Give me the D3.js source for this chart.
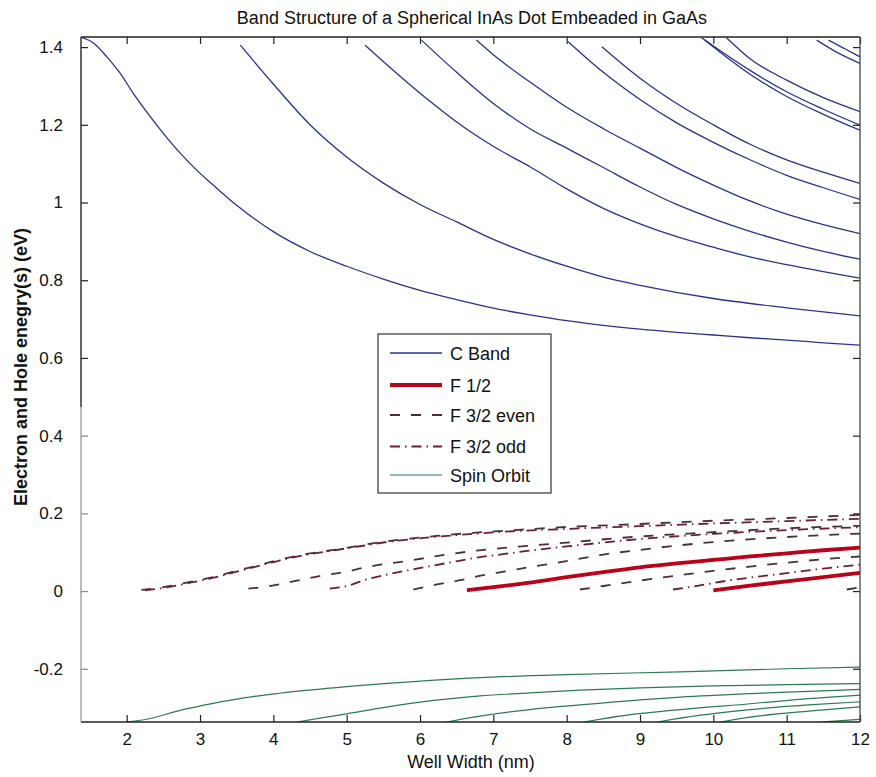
<!DOCTYPE html>
<html>
<head>
<meta charset="utf-8">
<script src="https://cdn.jsdelivr.net/npm/d3@7"></script>
<style>
  html, body { margin: 0; padding: 0; background: #fff; }
  svg text { font-family: "Liberation Sans", Arial, Helvetica, sans-serif; fill: #111; }
</style>
</head>
<body>
<svg id="chart" width="876" height="777"></svg>
<script>
// ---------------- DATA ----------------
const chartTitle = "Band Structure of a Spherical InAs Dot Embeaded in GaAs";
const xLabel = "Well Width (nm)";
const yLabel = "Electron and Hole enegry(s) (eV)";
const xTicks = [2, 3, 4, 5, 6, 7, 8, 9, 10, 11, 12];
const yTicks = [-0.2, 0, 0.2, 0.4, 0.6, 0.8, 1, 1.2, 1.4];
const yTickLabels = ["-0.2", "0", "0.2", "0.4", "0.6", "0.8", "1", "1.2", "1.4"];
const xDomain = [1.377, 12];
const yDomain = [-0.337, 1.426];

// Conduction band levels [well width nm, energy eV]
const cBand = [
  [[1.37,1.426],[1.55,1.41],[1.73,1.375],[1.91,1.333],[2.09,1.281],[2.27,1.234],[2.5,1.178],[2.73,1.127],[2.95,1.084],[3.18,1.045],[3.5,0.993],[4,0.925],[4.5,0.874],[5,0.836],[5.5,0.803],[6,0.774],[6.5,0.75],[7,0.728],[7.5,0.711],[8,0.696],[8.5,0.684],[9,0.674],[9.5,0.666],[10,0.659],[10.5,0.652],[11,0.646],[11.5,0.639],[12,0.633]],
  [[3.55,1.405],[4,1.305],[4.5,1.2],[5,1.117],[5.5,1.05],[6,0.995],[6.5,0.95],[7,0.905],[7.5,0.868],[8,0.836],[8.5,0.808],[9,0.787],[10,0.753],[11,0.729],[12,0.708]],
  [[5.25,1.405],[5.68,1.333],[6.14,1.26],[6.59,1.195],[7.05,1.139],[7.5,1.092],[8,1.035],[8.5,0.985],[9,0.945],[9.5,0.912],[10,0.885],[10.5,0.86],[11,0.84],[11.5,0.822],[12,0.805]],
  [[6.02,1.418],[6.5,1.335],[7,1.255],[7.5,1.19],[8,1.14],[8.5,1.09],[9,1.04],[9.5,0.995],[10,0.958],[10.5,0.926],[11,0.898],[11.5,0.874],[12,0.854]],
  [[6.77,1.418],[7,1.38],[7.5,1.31],[8,1.245],[8.5,1.19],[9,1.14],[9.5,1.09],[10,1.045],[10.5,1.004],[11,0.97],[11.5,0.943],[12,0.92]],
  [[8.02,1.414],[8.5,1.335],[9,1.265],[9.5,1.205],[10,1.155],[10.5,1.11],[11,1.07],[11.5,1.038],[12,1.008]],
  [[8.48,1.401],[9,1.32],[9.5,1.255],[10,1.2],[10.5,1.15],[11,1.11],[11.5,1.078],[12,1.049]],
  [[9.84,1.424],[10.5,1.34],[11,1.285],[11.5,1.24],[12,1.199]],
  [[9.88,1.418],[10.5,1.33],[11,1.273],[11.5,1.227],[12,1.186]],
  [[10.18,1.424],[10.5,1.37],[11,1.315],[11.5,1.27],[12,1.234]],
  [[11.41,1.418],[11.7,1.385],[12,1.358]],
  [[11.57,1.418],[11.8,1.395],[12,1.375]]
];

// F 1/2 hole levels (thick red)
const f12 = [
  [[6.64,0.002],[7,0.01],[7.5,0.022],[8,0.036],[8.5,0.049],[9,0.061],[9.5,0.071],[10,0.08],[10.5,0.089],[11,0.097],[11.5,0.105],[12,0.112]],
  [[10.0,0.002],[10.5,0.014],[11,0.025],[11.5,0.036],[12,0.047]]
];

// F 3/2 even hole levels (dashed)
const f32even = [
  [[2.2,0.003],[2.5,0.01],[2.8,0.021],[3.2,0.037],[3.5,0.052],[3.75,0.064],[4.07,0.08],[4.5,0.097],[4.9,0.108],[5.2,0.118],[5.5,0.127],[5.91,0.136],[6.23,0.142],[6.73,0.15],[7.14,0.155],[8,0.165],[8.68,0.17],[9.5,0.177],[10,0.181],[11,0.188],[11.5,0.192],[12,0.196]],
  [[3.66,0.006],[4.02,0.015],[4.3,0.026],[4.61,0.038],[5,0.05],[5.23,0.06],[5.91,0.08],[6.36,0.094],[6.77,0.104],[7.32,0.114],[8.14,0.127],[8.68,0.136],[9.95,0.151],[11.32,0.164],[12,0.168]],
  [[5.91,0.004],[6.23,0.017],[6.55,0.028],[6.86,0.041],[7.18,0.051],[7.5,0.062],[7.82,0.071],[8.14,0.082],[8.5,0.094],[9,0.106],[9.5,0.117],[10,0.126],[11,0.139],[12,0.148]],
  [[8.18,0.004],[8.5,0.013],[9,0.027],[9.5,0.04],[10,0.052],[10.5,0.063],[11,0.073],[11.5,0.082],[12,0.089]],
  [[11.82,0.004],[12,0.01]]
];

// F 3/2 odd hole levels (dash-dot)
const f32odd = [
  [[2.25,0.002],[2.5,0.008],[2.8,0.019],[3.2,0.035],[3.5,0.05],[3.75,0.062],[4.07,0.078],[4.5,0.095],[4.9,0.107],[5.2,0.116],[5.5,0.125],[5.91,0.134],[6.5,0.144],[7,0.151],[8,0.16],[9,0.167],[10,0.174],[11,0.18],[12,0.186]],
  [[4.77,0.006],[5,0.013],[5.27,0.03],[5.64,0.046],[6.05,0.061],[6.45,0.075],[6.77,0.086],[7.05,0.093],[7.5,0.104],[8,0.115],[8.5,0.125],[9,0.134],[10,0.147],[11,0.157],[12,0.164]],
  [[9.45,0.004],[9.8,0.014],[10.2,0.027],[10.6,0.037],[11,0.046],[11.5,0.058],[12,0.068]]
];

// Spin-orbit levels (green)
const spinOrbit = [
  [[2.0,-0.337],[2.27,-0.33],[2.73,-0.307],[3.18,-0.289],[3.6,-0.275],[4.09,-0.263],[5,-0.246],[5.91,-0.233],[6.82,-0.223],[8,-0.215],[9.55,-0.208],[11,-0.2],[12,-0.196]],
  [[4.32,-0.337],[4.7,-0.325],[5,-0.316],[5.5,-0.3],[6,-0.286],[6.82,-0.27],[7.5,-0.262],[8.18,-0.255],[9,-0.249],[10,-0.244],[11,-0.241],[12,-0.238]],
  [[6.36,-0.337],[6.82,-0.322],[7.5,-0.305],[8.18,-0.293],[9,-0.28],[9.55,-0.273],[10.5,-0.264],[11.3,-0.258],[12,-0.253]],
  [[8.23,-0.337],[8.8,-0.32],[9.55,-0.305],[10.5,-0.29],[11.3,-0.277],[12,-0.268]],
  [[9.23,-0.337],[9.8,-0.32],[10.5,-0.305],[11.3,-0.293],[12,-0.285]],
  [[10.09,-0.337],[10.6,-0.322],[11.3,-0.309],[12,-0.298]],
  [[11.45,-0.337],[11.7,-0.334],[12,-0.33]]
];

const legendItems = ["C Band", "F 1/2", "F 3/2 even", "F 3/2 odd", "Spin Orbit"];

// ---------------- STYLE ----------------
const colors = { c: "#27348b", f12: "#bb0018", even: "#4a3038", odd: "#6d1f30", so: "#2d7a52" };
const styles = [
  { color: colors.c,    width: 1.3, dash: null },
  { color: colors.f12,  width: 3.8, dash: null },
  { color: colors.even, width: 1.8, dash: "10,11" },
  { color: colors.odd,  width: 1.8, dash: "10,5,1.5,5" },
  { color: colors.so,   width: 1.2, dash: null }
];

// ---------------- CHART ----------------
const svg = d3.select("#chart");
const L = 81, R = 860, T = 37, B = 722;
const x = d3.scaleLinear().domain(xDomain).range([L, R]);
const y = d3.scaleLinear().domain(yDomain).range([B, T]);

svg.append("defs").append("clipPath").attr("id", "plotclip")
  .append("rect").attr("x", L).attr("y", T).attr("width", R - L).attr("height", B - T);

const line = d3.line().x(d => x(d[0])).y(d => y(d[1])).curve(d3.curveMonotoneX);
const plot = svg.append("g").attr("clip-path", "url(#plotclip)");

function drawGroup(data, st) {
  plot.append("g").selectAll("path").data(data).join("path")
    .attr("d", line)
    .attr("fill", "none")
    .attr("stroke", st.color)
    .attr("stroke-width", st.width)
    .attr("stroke-linecap", "butt")
    .attr("stroke-dasharray", st.dash);
}
drawGroup(spinOrbit, styles[4]);
drawGroup(f32even, styles[2]);
drawGroup(f32odd, styles[3]);
drawGroup(f12, styles[1]);
drawGroup(cBand, styles[0]);

// Axes (MATLAB-like box with inward ticks)
const tickLen = 7;
const xAxisB = d3.axisBottom(x).tickValues(xTicks).tickSizeInner(-tickLen).tickSizeOuter(0).tickPadding(11).tickFormat(d3.format("d"));
const xAxisT = d3.axisTop(x).tickValues(xTicks).tickSizeInner(-tickLen).tickSizeOuter(0).tickFormat("");
const yAxisL = d3.axisLeft(y).tickValues(yTicks).tickSizeInner(-tickLen).tickSizeOuter(0).tickPadding(18)
  .tickFormat((d, i) => yTickLabels[i]);
const yAxisR = d3.axisRight(y).tickValues(yTicks).tickSizeInner(-tickLen).tickSizeOuter(0).tickFormat("");

function styleAxis(g) {
  g.select(".domain").remove();
  g.selectAll(".tick line").attr("stroke", "#222").attr("stroke-width", 1.2);
  g.selectAll(".tick text").attr("font-size", 17).attr("fill", "#111")
    .style("font-family", "'Liberation Sans', Arial, sans-serif");
}
svg.append("g").attr("transform", `translate(0,${B})`).call(xAxisB).call(styleAxis);
svg.append("g").attr("transform", `translate(0,${T})`).call(xAxisT).call(styleAxis);
const gl = svg.append("g").attr("transform", `translate(${L},0)`).call(yAxisL).call(styleAxis);
gl.selectAll(".tick line").attr("stroke", d => (y(d) > 407 ? "#888" : "#222"));
svg.append("g").attr("transform", `translate(${R},0)`).call(yAxisR).call(styleAxis);

// Frame
const frame = svg.append("g").attr("fill", "none");
frame.append("line").attr("x1", L).attr("x2", R).attr("y1", T).attr("y2", T).attr("stroke", "#222").attr("stroke-width", 1.5);
frame.append("line").attr("x1", L).attr("x2", R).attr("y1", B).attr("y2", B).attr("stroke", "#222").attr("stroke-width", 1.5);
frame.append("line").attr("x1", R).attr("x2", R).attr("y1", T).attr("y2", B).attr("stroke", "#444").attr("stroke-width", 1.3);
frame.append("line").attr("x1", L).attr("x2", L).attr("y1", T).attr("y2", 407).attr("stroke", "#333").attr("stroke-width", 1.5);
frame.append("line").attr("x1", L).attr("x2", L).attr("y1", 407).attr("y2", B).attr("stroke", "#999").attr("stroke-width", 1.3);

// Titles
svg.append("text").attr("x", 472).attr("y", 24).attr("text-anchor", "middle")
  .attr("font-size", 18).text(chartTitle);
svg.append("text").attr("x", 471).attr("y", 768).attr("text-anchor", "middle")
  .attr("font-size", 18).text(xLabel);
svg.append("text").attr("transform", "translate(27,367) rotate(-90)").attr("text-anchor", "middle")
  .attr("font-size", 18).attr("font-weight", "bold").text(yLabel);

// Legend
const lg = svg.append("g");
const lx = 378, ly = 334, lw = 173, lh = 159;
lg.append("rect").attr("x", lx).attr("y", ly).attr("width", lw).attr("height", lh)
  .attr("fill", "#fff").attr("stroke", "#333").attr("stroke-width", 1.2);
const rowY = [353, 385, 415, 446.5, 475];
legendItems.forEach((name, i) => {
  const st = styles[i];
  lg.append("line").attr("x1", 390).attr("x2", 442).attr("y1", rowY[i]).attr("y2", rowY[i])
    .attr("stroke", st.color).attr("stroke-width", st.width).attr("stroke-dasharray", st.dash);
  lg.append("text").attr("x", 450).attr("y", rowY[i] + 6.5).attr("font-size", 18).text(name);
});
</script>
</body>
</html>
